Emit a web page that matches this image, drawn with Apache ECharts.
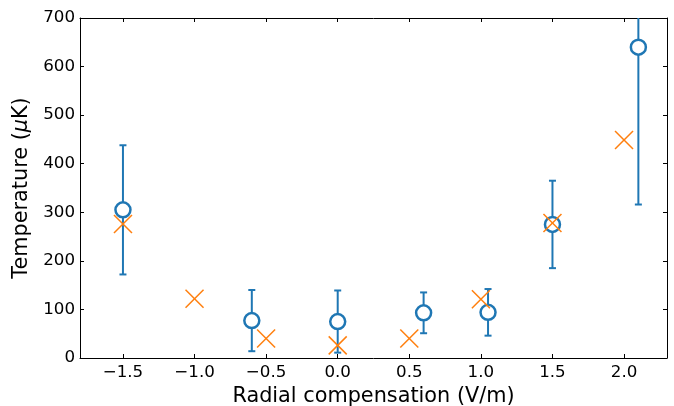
<!DOCTYPE html>
<html>
<head>
<meta charset="utf-8">
<script src="https://cdn.jsdelivr.net/npm/echarts@6/dist/echarts.min.js"></script>
<style>html,body{margin:0;padding:0;background:#fff}#c{width:674px;height:406px}</style>
</head>
<body>
<div id="c"></div>
<script>
// Measured (blue circles with symmetric error bars)
const xMeasured = [-1.5, -0.6, 0.0, 0.6, 1.05, 1.5, 2.1];
const yMeasured = [305, 77, 75, 93, 94, 275, 640];
const errMeasured = [133, 63, 64, 42, 48, 90, 324];
// Simulated (orange crosses)
const xSim = [-1.5, -1.0, -0.5, 0.0, 0.5, 1.0, 1.5, 2.0];
const ySim = [276, 122, 40, 26, 40, 121, 278, 449];
// Tick values
const xTicks = [-1.5, -1.0, -0.5, 0.0, 0.5, 1.0, 1.5, 2.0];
const xName = 'Radial compensation (V/m)';

const BLUE = '#1f77b4', ORANGE = '#ff7f0e';
const FONT = 'DejaVu Sans';

const chart = echarts.init(document.getElementById('c'));

function fmtX(v){ return (v < 0 ? '\u2212' : '') + Math.abs(v).toFixed(1); }

function renderErr(params, api){
  const x = api.value(0), y = api.value(1), e = api.value(2);
  const lo = api.coord([x, y - e]), hi = api.coord([x, y + e]);
  const cs = params.coordSys;
  const top = Math.max(hi[1], cs.y), bot = Math.min(lo[1], cs.y + cs.height);
  const st = {stroke: BLUE, lineWidth: 2};
  const ch = [{type: 'line', shape: {x1: lo[0], y1: top, x2: lo[0], y2: bot}, style: st}];
  const cw = 3.5;
  if (hi[1] >= cs.y) ch.push({type: 'line', shape: {x1: hi[0]-cw, y1: hi[1], x2: hi[0]+cw, y2: hi[1]}, style: st});
  if (lo[1] <= cs.y + cs.height) ch.push({type: 'line', shape: {x1: lo[0]-cw, y1: lo[1], x2: lo[0]+cw, y2: lo[1]}, style: st});
  return {type: 'group', children: ch};
}
function renderCross(params, api){
  const p = api.coord([api.value(0), api.value(1)]);
  const h = 9;
  const st = {stroke: ORANGE, lineWidth: 1.5};
  return {type: 'group', children: [
    {type: 'line', shape: {x1: p[0]-h, y1: p[1]-h, x2: p[0]+h, y2: p[1]+h}, style: st},
    {type: 'line', shape: {x1: p[0]-h, y1: p[1]+h, x2: p[0]+h, y2: p[1]-h}, style: st}
  ]};
}

const axisLineStyle = {show: true, onZero: false, lineStyle: {color: '#000', width: 1}};
const tickStyle = {show: true, inside: true, length: 4, lineStyle: {color: '#000', width: 1}};

chart.setOption({
  animation: false,
  textStyle: {fontFamily: FONT},
  grid: {left: 80, right: 7, top: 18, bottom: 48, containLabel: false, outerBoundsMode: 'none'},
  xAxis: [{
    type: 'value', min: -1.8, max: 2.3, position: 'bottom',
    name: xName, nameLocation: 'middle', nameGap: 25,
    nameTextStyle: {fontFamily: FONT, fontSize: 20.8, color: '#000'},
    axisLine: axisLineStyle,
    axisTick: Object.assign({customValues: xTicks}, tickStyle),
    axisLabel: {customValues: xTicks, formatter: fmtX, fontFamily: FONT, fontSize: 16.7, color: '#000', margin: 6},
    splitLine: {show: false}
  }, {
    type: 'value', min: -1.8, max: 2.3, position: 'top',
    axisLine: axisLineStyle,
    axisTick: Object.assign({customValues: xTicks}, tickStyle),
    axisLabel: {show: false},
    splitLine: {show: false}
  }],
  yAxis: [{
    type: 'value', min: 0, max: 700, interval: 100, position: 'left',
    name: 'Temperature ({i|\u03bc}K)', nameLocation: 'middle', nameGap: 42,
    nameTextStyle: {fontFamily: FONT, fontSize: 20.8, color: '#000',
      rich: {i: {fontFamily: FONT, fontSize: 20.8, fontStyle: 'italic', color: '#000'}}},
    axisLine: axisLineStyle,
    axisTick: tickStyle,
    axisLabel: {fontFamily: FONT, fontSize: 16.7, color: '#000', margin: 5},
    splitLine: {show: false}
  }, {
    type: 'value', min: 0, max: 700, interval: 100, position: 'right',
    axisLine: axisLineStyle,
    axisTick: tickStyle,
    axisLabel: {show: false},
    splitLine: {show: false}
  }],
  series: [{
    type: 'custom', renderItem: renderErr, z: 1,
    data: xMeasured.map((x, i) => [x, yMeasured[i], errMeasured[i]])
  }, {
    type: 'scatter', z: 2, symbol: 'circle', symbolSize: 15,
    itemStyle: {color: '#fff', borderColor: BLUE, borderWidth: 2.5, opacity: 1},
    data: xMeasured.map((x, i) => [x, yMeasured[i]])
  }, {
    type: 'custom', renderItem: renderCross, z: 3,
    data: xSim.map((x, i) => [x, ySim[i]])
  }]
});
</script>
</body>
</html>
